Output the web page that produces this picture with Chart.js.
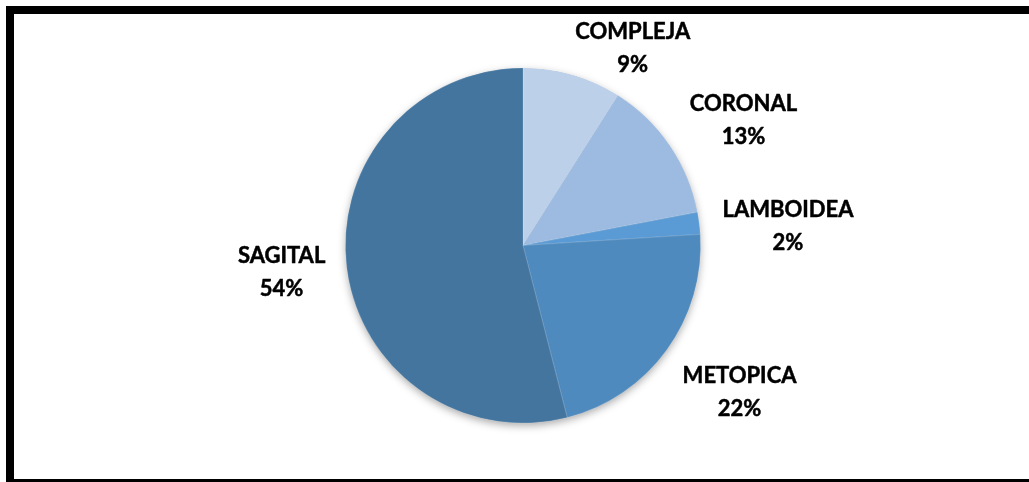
<!DOCTYPE html>
<html>
<head>
<meta charset="utf-8">
<script src="https://cdn.jsdelivr.net/npm/chart.js@4.4.1/dist/chart.umd.min.js"></script>
<style>
  html, body { margin:0; padding:0; background:#fff; }
  body { width:1029px; height:482px; overflow:hidden; position:relative; }
  .frame {
    position:absolute; left:6px; top:6px; width:1100px; height:465px;
    border-top:8px solid #000; border-left:8px solid #000; border-bottom:3px solid #000;
  }
  #pie { position:absolute; left:0; top:0; }
</style>
</head>
<body>
<div class="frame"></div>
<canvas id="pie" width="1029" height="482"></canvas>
<script>
// tipos de craneosinostosis (%)
const labels = ['COMPLEJA', 'CORONAL', 'LAMBOIDEA', 'METOPICA', 'SAGITAL'];
const values = [9, 13, 2, 22, 54];

const sliceColors = ['#bcd0ea', '#9dbbe0', '#5b9bd5', '#4f8abf', '#44759f'];

// sombra suave bajo el círculo completo
const pieShadow = {
  id: 'pieShadow',
  beforeDatasetsDraw(chart){
    const arc = chart.getDatasetMeta(0).data[0];
    if (!arc) return;
    const { x, y, outerRadius } = arc.getProps(['x','y','outerRadius'], true);
    const ctx = chart.ctx;
    ctx.save();
    ctx.shadowColor = 'rgba(0,0,0,0.35)';
    ctx.shadowBlur = 9;
    ctx.shadowOffsetY = 3;
    ctx.beginPath();
    ctx.arc(x, y, outerRadius - 0.5, 0, Math.PI*2);
    ctx.fillStyle = '#44759f';
    ctx.fill();
    ctx.restore();
  }
};

// etiquetas "nombre / porcentaje" fuera de cada sector
const outerLabels = {
  id: 'outerLabels',
  afterDatasetsDraw(chart, args, opts){
    const ctx = chart.ctx;
    const meta = chart.getDatasetMeta(0);
    ctx.save();
    ctx.font = opts.font;
    ctx.fillStyle = opts.color;
    ctx.strokeStyle = opts.color;
    ctx.lineWidth = opts.stroke;
    ctx.lineJoin = 'round';
    ctx.textAlign = 'center';
    ctx.textBaseline = 'middle';
    meta.data.forEach((arc, i) => {
      const p = arc.getProps(['x','y','startAngle','endAngle','outerRadius'], true);
      const mid = (p.startAngle + p.endAngle) / 2;
      const ux = Math.cos(mid), uy = Math.sin(mid);
      const lines = [chart.data.labels[i], values[i] + '%'];
      const w = Math.max(...lines.map(t => ctx.measureText(t).width));
      const h = opts.lineHeight * 2;
      const px = p.x + (p.outerRadius + opts.gap) * ux;
      const py = p.y + (p.outerRadius + opts.gap) * uy;
      const s = opts.shift[chart.data.labels[i]] || [0, 0];
      const cx = px + ux * w / 2 + s[0];
      const cy = py + uy * h / 2 + s[1];
      lines.forEach((t, k) => {
        const ty = cy + (k - 0.5) * opts.lineHeight;
        ctx.fillText(t, cx, ty);
        if (opts.stroke) ctx.strokeText(t, cx, ty);
      });
    });
    ctx.restore();
  }
};

new Chart(document.getElementById('pie').getContext('2d'), {
  type: 'pie',
  data: {
    labels,
    datasets: [{
      data: values,
      backgroundColor: sliceColors,
      borderColor: 'rgba(255,255,255,0.2)',
      borderWidth: 0.8
    }]
  },
  options: {
    responsive: false,
    animation: false,
    layout: { padding: { left: 345, right: 328, top: 67.5, bottom: 58.5 } },
    plugins: {
      legend: { display: false },
      tooltip: { enabled: false },
      outerLabels: {
        font: 'bold 22px Lato',
        color: '#000',
        stroke: 0.5,
        lineHeight: 33,
        gap: 22,
        shift: {
          COMPLEJA: [38, 26],
          CORONAL: [11, 6],
          LAMBOIDEA: [2, 10],
          METOPICA: [9, 10],
          SAGITAL: [0, -2]
        }
      }
    }
  },
  plugins: [pieShadow, outerLabels]
});
</script>
</body>
</html>
